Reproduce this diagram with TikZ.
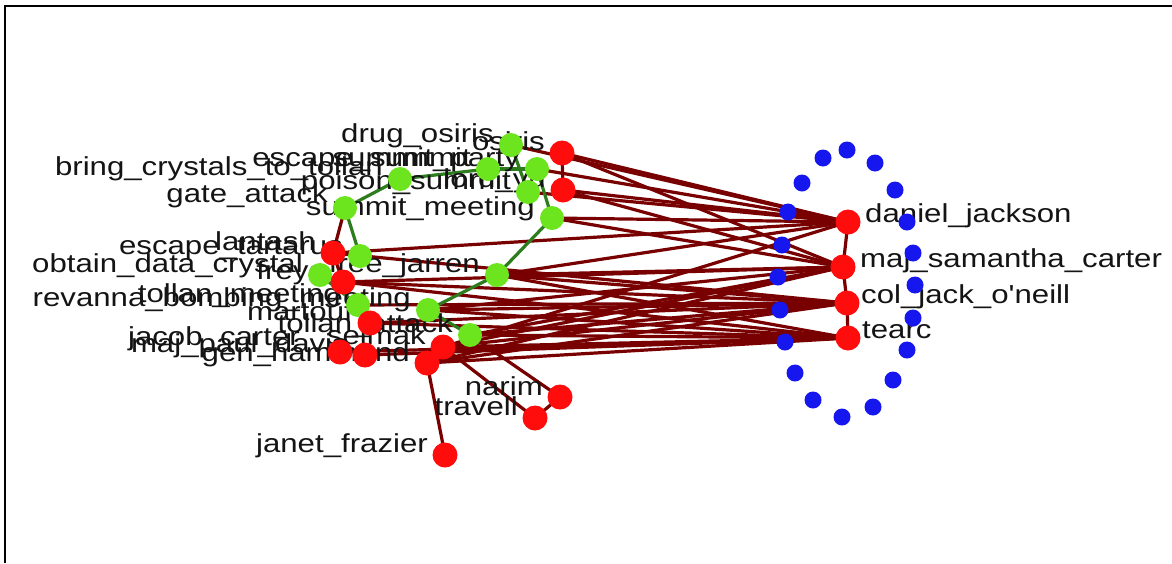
\documentclass[tikz,border=0pt]{standalone}
\usepackage{fontspec}
\usepackage{graphicx}
\newfontfamily\lfont{Liberation Sans}
\newcommand{\lb}[1]{\scalebox{1.2}[1]{#1}}
\definecolor{pred}{RGB}{255,12,12}
\definecolor{egreen}{RGB}{108,228,30}
\definecolor{oblue}{RGB}{22,22,238}
\definecolor{edred}{RGB}{120,0,0}
\definecolor{edgreen}{RGB}{45,125,30}
\begin{document}
\begin{tikzpicture}[x=1pt,y=-1pt,
  person/.style={circle,fill=pred,minimum size=25pt,inner sep=0pt},
  event/.style={circle,fill=egreen,minimum size=24pt,inner sep=0pt},
  other/.style={circle,fill=oblue,minimum size=17pt,inner sep=0pt},
  rel/.style={draw=edred,line width=3.2pt},
  grel/.style={draw=edgreen,line width=3.2pt},
  lblL/.style={anchor=base east,inner sep=0pt,font=\lfont\fontsize{26}{26}\selectfont,text=black!92},
  lblR/.style={anchor=base west,inner sep=0pt,font=\lfont\fontsize{26}{26}\selectfont,text=black!92}]
\useasboundingbox (0,0) rectangle (1172,563);
\fill[white] (0,0) rectangle (1172,563);
\draw[line width=2pt,black] (5,563) -- (5,6) -- (1172,6);

% coordinates of nodes
\coordinate (g1) at (511,145);
\coordinate (g2) at (488,169);
\coordinate (g3) at (537,169);
\coordinate (g4) at (528,192);
\coordinate (g5) at (552,218);
\coordinate (g6) at (400,179);
\coordinate (g7) at (345,208);
\coordinate (g8) at (360,256);
\coordinate (g9) at (320,275);
\coordinate (g10) at (497,275);
\coordinate (g11) at (358,305);
\coordinate (g12) at (428,310);
\coordinate (g13) at (470,335);
\coordinate (r1) at (562,153);
\coordinate (r2) at (563,190);
\coordinate (r3) at (333,253);
\coordinate (r4) at (343,282);
\coordinate (r5) at (370,323);
\coordinate (r6) at (443,347);
\coordinate (r7) at (427,363);
\coordinate (r8) at (340,352);
\coordinate (r9) at (365,355);
\coordinate (narim) at (560,397);
\coordinate (travell) at (535,418);
\coordinate (janet) at (445,455);
\coordinate (daniel) at (848,222);
\coordinate (sam) at (843,267);
\coordinate (jack) at (847,303);
\coordinate (tearc) at (848,338);

% dark red relations
\foreach \s in {r1,g1,r2,g3,g4,g5,r3,g10,r6}{\draw[rel] (\s) -- (daniel);}
\foreach \s in {r1,r2,g5,r4,g10,g12,r6,r7,g13}{\draw[rel] (\s) -- (sam);}
\foreach \s in {r3,g10,r4,r5,g11,r6,r7,g13,g12}{\draw[rel] (\s) -- (jack);}
\foreach \s in {g10,r4,r5,g12,r6,r7,r9,g13,r8}{\draw[rel] (\s) -- (tearc);}
\draw[rel] (daniel) -- (sam) -- (jack) -- (tearc);
\draw[rel] (g7) -- (r3);
\draw[rel] (r3) -- (r4);
\draw[rel] (r7) -- (janet);
\draw[rel] (g13) -- (narim);
\draw[rel] (r6) -- (travell);
\draw[rel] (narim) -- (travell);
\draw[rel] (r1) -- (r2);

% green relations
\draw[grel] (g6) -- (g2);
\draw[grel] (g6) -- (g7);
\draw[grel] (g7) -- (g8);
\draw[grel] (g1) -- (g4);
\draw[grel] (g2) -- (g3);
\draw[grel] (g3) -- (g5);
\draw[grel] (g5) -- (g10);
\draw[grel] (g10) -- (g12);
\draw[grel] (g12) -- (g13);
\draw[grel] (g9) -- (g11);

% labels (left of node)
\node[lblL] (lg1) at ([xshift=-17pt,yshift=3pt]g1) {\lb{drug\_osiris}};
\node[lblL] (lr1) at ([xshift=-17pt,yshift=3pt]r1) {\lb{osiris}};
\node[lblL] (lg2) at ([xshift=-17pt,yshift=3pt]g2) {\lb{escape\_summit}};
\node[lblL] (lg3) at ([xshift=-17pt,yshift=3pt]g3) {\lb{summit\_party}};
\node[lblL] (lg6) at ([xshift=-17pt,yshift=4pt]g6) {\lb{bring\_crystals\_to\_tollan}};
\node[lblL] (lg4) at ([xshift=-17pt,yshift=3pt]g4) {\lb{poison\_summit}};
\node[lblL] (lr2) at ([xshift=-17pt,yshift=3pt]r2) {\lb{lord\_yu}};
\node[lblL] (lg7) at ([xshift=-17pt,yshift=6pt]g7) {\lb{gate\_attack}};
\node[lblL] (lg5) at ([xshift=-17pt,yshift=3pt]g5) {\lb{summit\_meeting}};
\node[lblL] (lg8) at ([xshift=-17pt,yshift=2pt]g8) {\lb{escape\_tartarus}};
\node[lblL] (lr3) at ([xshift=-17pt,yshift=3pt]r3) {\lb{lantash}};
\node[lblL] (lg9) at ([xshift=-17pt,yshift=3pt]g9) {\lb{obtain\_data\_crystal}};
\node[lblL] (lr4) at ([xshift=-17pt,yshift=3pt]r4) {\lb{freya}};
\node[lblL] (lg10) at ([xshift=-17pt,yshift=3pt]g10) {\lb{free\_jarren}};
\node[lblL] (lg11) at ([xshift=-17pt,yshift=3pt]g11) {\lb{tollan\_meeting}};
\node[lblL] (lg12) at ([xshift=-17pt,yshift=4pt]g12) {\lb{revanna\_bombing\_meeting}};
\node[lblL] (lr5) at ([xshift=-17pt,yshift=3pt]r5) {\lb{martouf}};
\node[lblL] (lg13) at ([xshift=-17pt,yshift=3pt]g13) {\lb{tollan\_attack}};
\node[lblL] (lr6) at ([xshift=-17pt,yshift=3pt]r6) {\lb{selmak}};
\node[lblL] (lr8) at ([xshift=-40pt,yshift=7pt]r8) {\lb{jacob\_carter}};
\node[lblL] (lr9) at ([xshift=-17pt,yshift=3pt]r9) {\lb{maj\_paul\_davis}};
\node[lblL] (lr7) at ([xshift=-17pt,yshift=2pt]r7) {\lb{gen\_hammond}};
\node[lblL] (lnarim) at ([xshift=-17pt,yshift=2pt]narim) {\lb{narim}};
\node[lblL] (ltravell) at ([xshift=-17pt,yshift=3pt]travell) {\lb{travell}};
\node[lblL] (ljanet) at ([xshift=-17pt,yshift=3pt]janet) {\lb{janet\_frazier}};
% labels (right of node)
\node[lblR] (ldaniel) at ([xshift=17pt]daniel) {\lb{daniel\_jackson}};
\node[lblR] (lsam) at ([xshift=17pt]sam) {\lb{maj\_samantha\_carter}};
\node[lblR] (ljack) at ([xshift=14pt]jack) {\lb{col\_jack\_o'neill}};
\node[lblR] (ltearc) at ([xshift=14pt]tearc) {\lb{tearc}};

% blue nodes
\foreach \n/\x/\y in {b1/847/150,b2/823/158,b3/875/163,b4/802/183,b5/895/190,b6/788/212,b7/907/222,b8/782/245,b9/913/253,b10/778/277,b11/915/285,b12/780/310,b13/913/318,b14/785/342,b15/907/350,b16/795/373,b17/893/380,b18/813/400,b19/873/407,b20/842/417}{
  \node[other] (\n) at (\x,\y) {};
}
% event nodes
\foreach \n in {g1,g2,g3,g4,g5,g6,g7,g8,g9,g10,g11,g12,g13}{\node[event] (n\n) at (\n) {};}
% person nodes
\foreach \n in {r1,r2,r3,r4,r5,r6,r7,r8,r9,narim,travell,janet,daniel,sam,jack,tearc}{\node[person] (n\n) at (\n) {};}
\end{tikzpicture}
\end{document}
